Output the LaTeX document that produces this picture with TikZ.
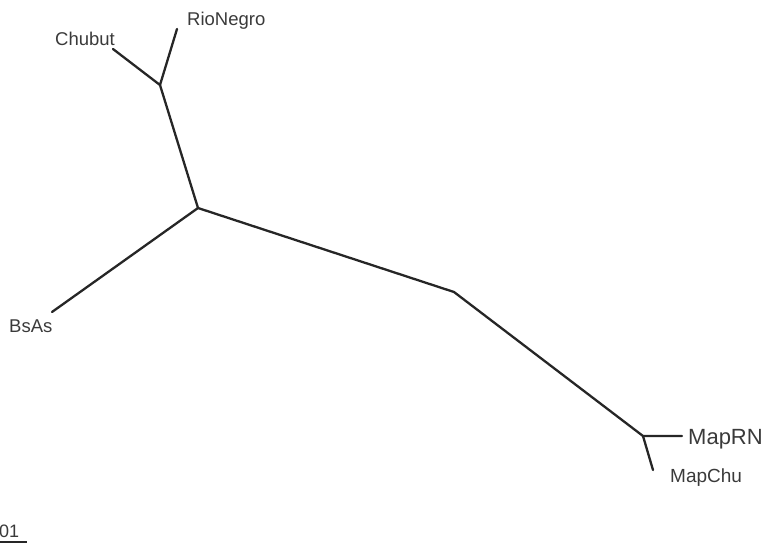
\documentclass[tikz,border=0pt]{standalone}
\usepackage{fontspec}
\setmainfont{Liberation Sans}
\definecolor{branch}{HTML}{262626}
\definecolor{lbl}{HTML}{3A3A3A}

\begin{document}
\begin{tikzpicture}[x=1pt,y=-1pt,line join=round,line cap=round,
	br/.style={draw=branch,line width=2.3pt},
	tx/.style={inner sep=0pt,text=lbl,font=\fontsize{#1}{#1}\selectfont},
	tx/.default=18.5]
	\useasboundingbox (0,0) rectangle (764,544);
	% Nút của cây
	\coordinate (Chu) at (113,49);
	\coordinate (RN) at (177,29);
	\coordinate (N1) at (160,85);
	\coordinate (O) at (198,208);
	\coordinate (Bs) at (52,312);
	\coordinate (N2) at (454,292);
	\coordinate (N3) at (643,436);
	\coordinate (MRN) at (682,436);
	\coordinate (MChu) at (653,470);
	% Cành
	\draw[br] (Chu)--(N1)--(RN);
	\draw[br] (N1)--(O)--(Bs);
	\draw[br] (O)--(N2)--(N3)--(MRN);
	\draw[br] (N3)--(MChu);
	% Nhãn
	\node[tx,anchor=base west] (lChu) at (55,45) {Chubut};
	\node[tx,anchor=base west] (lRN) at (187,25) {RioNegro};
	\node[tx,anchor=base west] (lBs) at (9,332) {BsAs};
	\node[tx=22,anchor=base west] (lMRN) at (688,444) {MapRN};
	\node[tx=19,anchor=base west] (lMChu) at (670,482) {MapChu};
	% Thang đo
	\node[tx=18,anchor=base west] (lsc) at (-1,537) {01};
	\coordinate (S1) at (0,542);
	\coordinate (S2) at (27,542);
	\draw[draw=branch,line width=1.6pt,line cap=butt] (S1)--(S2);
\end{tikzpicture}
\end{document}
